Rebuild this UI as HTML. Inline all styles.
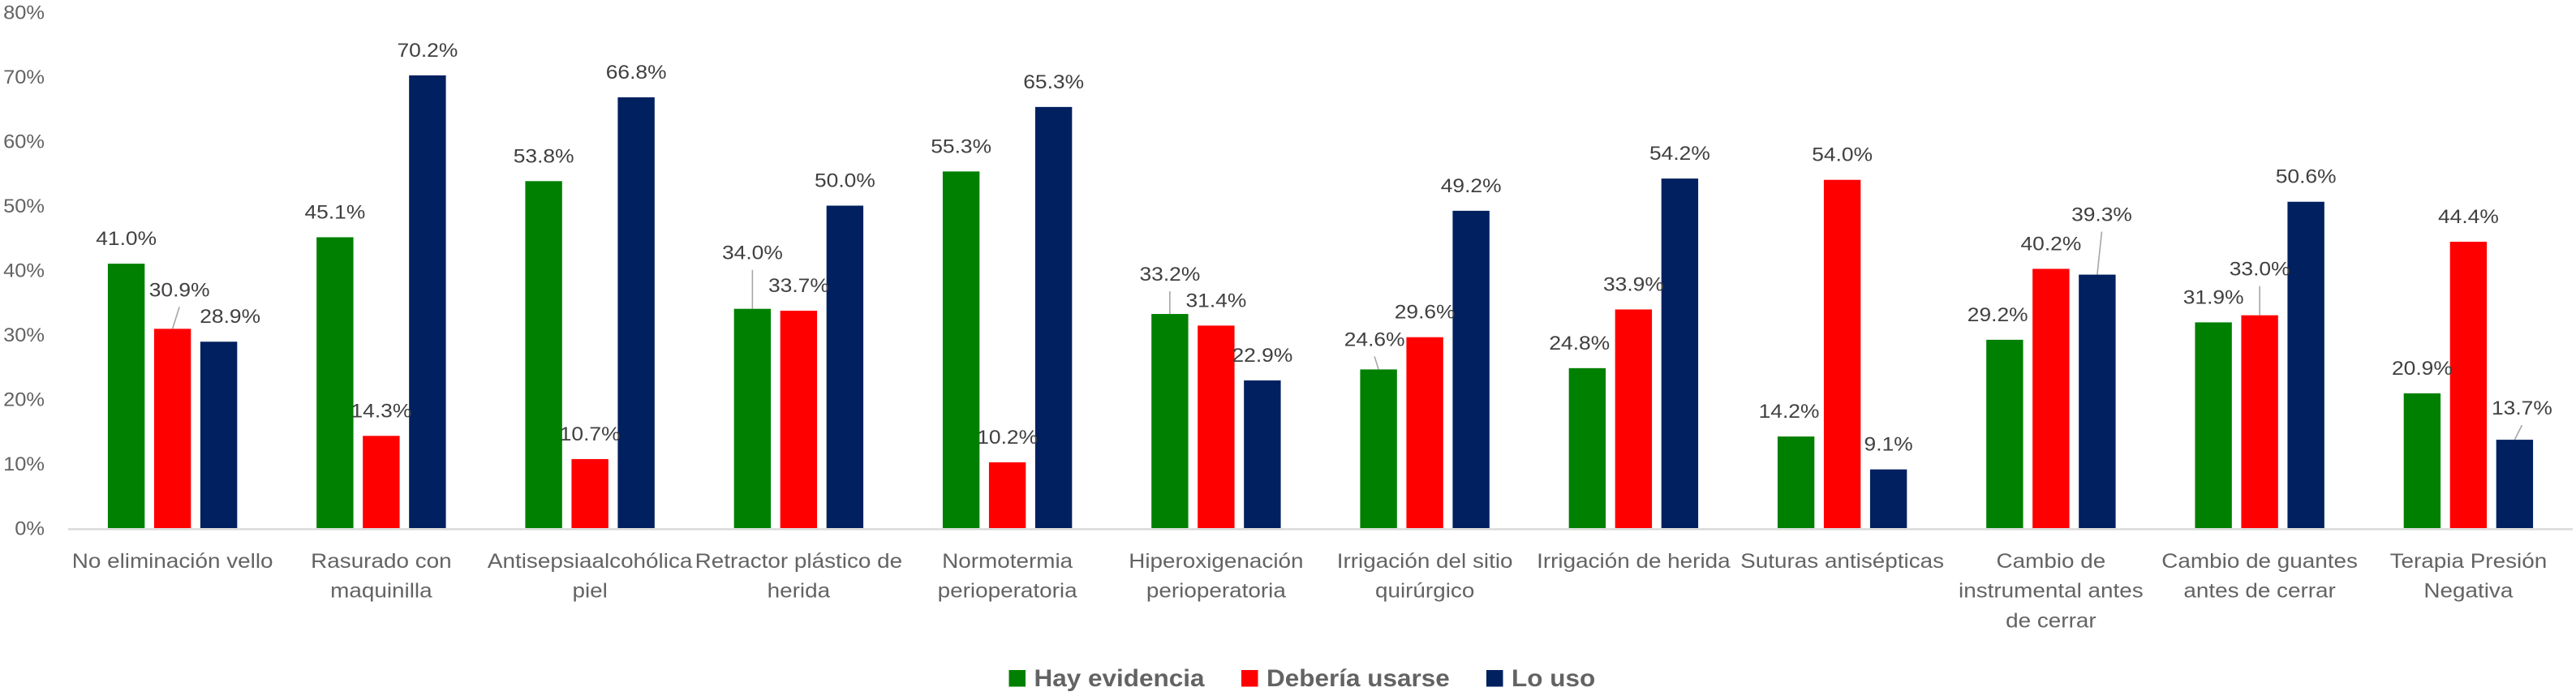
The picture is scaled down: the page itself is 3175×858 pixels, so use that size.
<!DOCTYPE html>
<html lang="es">
<head>
<meta charset="utf-8">
<title>Gráfico de barras</title>
<style>
html,body{margin:0;padding:0;background:#fff;width:3175px;height:858px;overflow:hidden}
svg{display:block;font-family:"Liberation Sans",Arial,sans-serif}
</style>
</head>
<body>
<svg id="chart" xmlns="http://www.w3.org/2000/svg" width="3175" height="858" viewBox="0 0 3175 858"></svg>
<script>
const categories = [
  ["No eliminación vello"],
  ["Rasurado con", "maquinilla"],
  ["Antisepsiaalcohólica", "piel"],
  ["Retractor plástico de", "herida"],
  ["Normotermia", "perioperatoria"],
  ["Hiperoxigenación", "perioperatoria"],
  ["Irrigación del sitio", "quirúrgico"],
  ["Irrigación de herida"],
  ["Suturas antisépticas"],
  ["Cambio de", "instrumental antes", "de cerrar"],
  ["Cambio de guantes", "antes de cerrar"],
  ["Terapia Presión", "Negativa"]
];
const seriesNames = ["Hay evidencia", "Debería usarse", "Lo uso"];
const hayEvidencia = [41.0, 45.1, 53.8, 34.0, 55.3, 33.2, 24.6, 24.8, 14.2, 29.2, 31.9, 20.9];
const deberiaUsarse = [30.9, 14.3, 10.7, 33.7, 10.2, 31.4, 29.6, 33.9, 54.0, 40.2, 33.0, 44.4];
const loUso = [28.9, 70.2, 66.8, 50.0, 65.3, 22.9, 49.2, 54.2, 9.1, 39.3, 50.6, 13.7];
const yTicks = [0, 10, 20, 30, 40, 50, 60, 70, 80];

const seriesValues = [hayEvidencia, deberiaUsarse, loUso];
const seriesColors = ["#008000", "#ff0000", "#002060"];
const seriesKeys = ["hay-evidencia", "deberia-usarse", "lo-uso"];

/* Layout of manually moved data labels, keyed "category-series": horizontal shift,
   distance above the bar, and whether a leader line is drawn. */
const labelLayout = {
  "0-1": {dx: 8.5, gap: 40, leader: true},
  "0-2": {dx: 14, gap: 23},
  "3-0": {dx: 0, gap: 61, leader: true},
  "5-0": {dx: 0, gap: 41, leader: true},
  "6-0": {dx: -5, gap: 29, leader: true},
  "7-0": {dx: -9.6, gap: 23},
  "8-0": {dx: -8.6, gap: 23},
  "9-0": {dx: -8.7, gap: 23},
  "9-2": {dx: 5.6, gap: 66, leader: true},
  "10-1": {dx: 0, gap: 49, leader: true},
  "11-2": {dx: 9, gap: 31, leader: true}
};

const NS = "http://www.w3.org/2000/svg";
const svg = document.getElementById("chart");
const plotLeft = 84, plotRight = 3171, baseY = 651, pxPerUnit = 7.95;
const barW = 45.4, barStep = 57;
const bandW = (plotRight - plotLeft) / categories.length;

function yScale(v) { return baseY - v * pxPerUnit; }
function bandCenter(i) { return plotLeft + bandW * (i + 0.5); }
function barCenter(i, s) { return bandCenter(i) + (s - 1) * barStep; }

function shape(tag, attrs) {
  const el = document.createElementNS(NS, tag);
  for (const k in attrs) el.setAttribute(k, attrs[k]);
  svg.appendChild(el);
  return el;
}
function label(str, x, y, size, sx, anchor, fill, weight) {
  const el = shape("text", {
    transform: "translate(" + x + " " + y + ") scale(" + sx + " 1)",
    "font-size": size, "text-anchor": anchor, fill: fill, "font-weight": weight || "normal"
  });
  el.textContent = str;
  return el;
}

/* y axis tick labels */
yTicks.forEach(function (t) {
  const el = label(t + "%", 55, yScale(t) + 8.5, 24, 1.06, "end", "#636363");
  
  
});

/* bars */
seriesValues.forEach(function (vals, s) {
  vals.forEach(function (v, i) {
    const el = shape("rect", {
      x: barCenter(i, s) - barW / 2, y: yScale(v), width: barW,
      height: baseY - yScale(v), fill: seriesColors[s]
    });
    
    
  });
});

/* x axis line */
const axis = shape("rect", {x: plotLeft, y: 651.2, width: plotRight - plotLeft, height: 2.4, fill: "#d9d9d9"});



/* data labels and leader lines */
seriesValues.forEach(function (vals, s) {
  vals.forEach(function (v, i) {
    const layout = labelLayout[i + "-" + s] || {dx: 0, gap: 23};
    const cx = barCenter(i, s);
    const base = yScale(v) - layout.gap;
    if (layout.leader) {
      const line = shape("line", {
        x1: cx + layout.dx, y1: base + 13, x2: cx, y2: yScale(v),
        stroke: "#a6a6a6", "stroke-width": 1.6
      });
      
      
    }
    const el = label(v.toFixed(1) + "%", cx + layout.dx, base, 24, 1.1, "middle", "#404040");
    
    
  });
});

/* category labels */
categories.forEach(function (lines, i) {
  lines.forEach(function (ln, k) {
    const el = label(ln, bandCenter(i), 700 + k * 36.7, 25, 1.115, "middle", "#636363");
    
    
  });
});

/* legend */
const legendX = [1243.5, 1530, 1832];
seriesNames.forEach(function (name, s) {
  const sw = shape("rect", {x: legendX[s], y: 826, width: 20.5, height: 20.5, fill: seriesColors[s]});
  
  
  const el = label(name, legendX[s] + 31, 846, 30, 1.05, "start", "#636363", "bold");
  
  
});
</script>
</body>
</html>
